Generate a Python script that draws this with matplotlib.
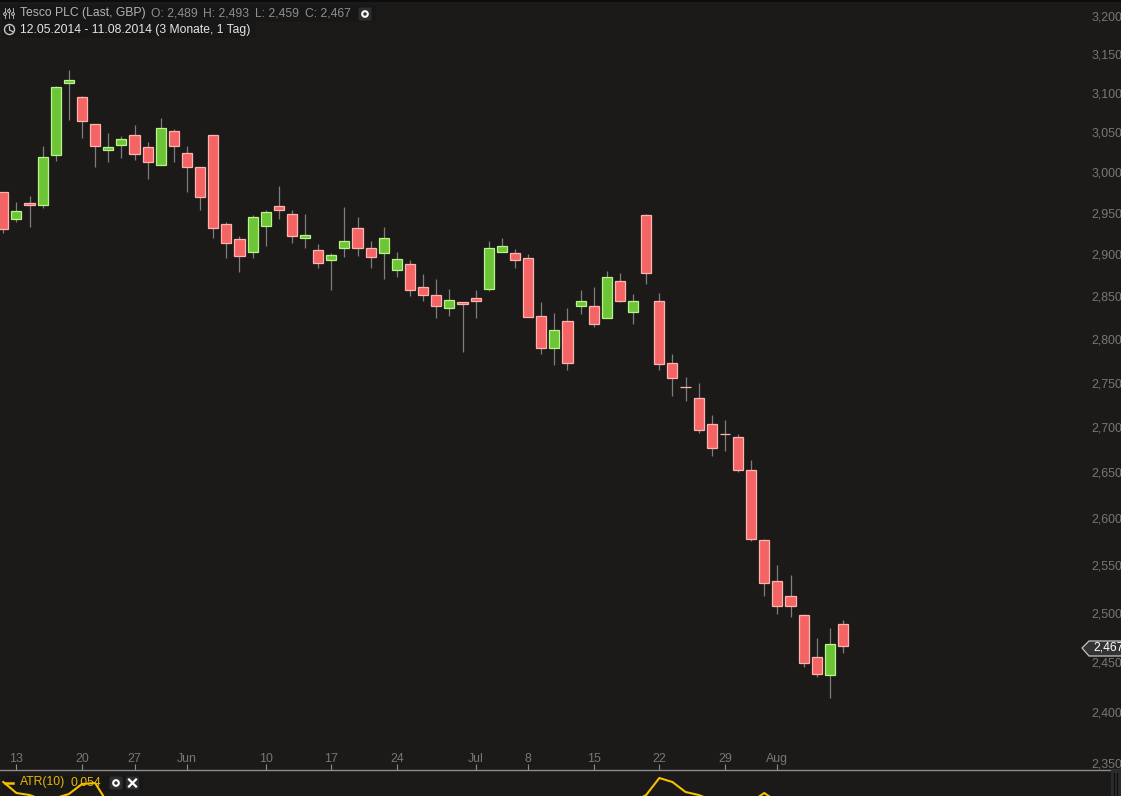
import matplotlib
matplotlib.use("Agg")
import matplotlib.pyplot as plt
from matplotlib.patches import Rectangle, Polygon, Circle, FancyBboxPatch

opens = [2975,2942,2962,2959,3021,3112,3094,3060,3027,3034,3047,3031,3009,3052,3024,3006,3047,2936,2918,2903,2934,2958,2948,2919,2905,2893,2908,2931,2908,2902,2881,2888,2861,2851,2836,2843,2848,2859,2903,2902,2895,2827,2790,2821,2838,2838,2824,2868,2832,2947,2844,2773,2745,2733,2703,2692,2689,2653,2577,2534,2518,2498,2455,2437,2489]
highs = [2976,2963,2970,3032,3109,3129,3096,3060,3049,3045,3059,3037,3068,3054,3032,3006,3047,2939,2922,2947,2953,2983,2954,2949,2912,2902,2957,2945,2916,2933,2903,2893,2876,2871,2859,2843,2857,2916,2920,2906,2900,2843,2830,2836,2857,2861,2880,2878,2853,2948,2854,2783,2757,2750,2713,2708,2692,2664,2578,2550,2540,2499,2475,2485,2493]
lows = [2926,2939,2933,2956,3014,3065,3043,3007,3012,3017,3015,2992,3009,3012,2976,2953,2920,2896,2879,2896,2910,2943,2913,2908,2884,2857,2897,2898,2884,2871,2873,2850,2845,2824,2827,2785,2824,2856,2903,2884,2826,2783,2770,2765,2829,2814,2824,2843,2818,2865,2765,2735,2729,2694,2668,2673,2650,2576,2518,2499,2496,2445,2435,2414,2459]
closes = [2930,2952,2960,3019,3107,3117,3064,3033,3031,3041,3022,3012,3055,3032,3006,2969,2932,2913,2898,2945,2951,2953,2922,2923,2889,2899,2916,2908,2897,2919,2894,2857,2852,2838,2846,2841,2845,2908,2910,2893,2826,2790,2810,2772,2845,2818,2873,2845,2845,2877,2771,2755,2745,2697,2677,2692,2653,2578,2532,2508,2508,2449,2438,2469,2467]
atr = [66,60.5,59.5,57,58,60,65,65.5,55,54,54,53,53,52,52,52,53,53,53,53,53,52,52,52,52,51,51,51,51,51,51,51,51,51,51,51,51,52,52,52,53,53,53,53,53,53,54,54,56,59.5,68,66,61,59.5,57,56,55,56,60.5,56,55,55,54.5,54.5,54]
atr_values = [v / 1000 for v in atr]

price_ticks = [3200,3150,3100,3050,3000,2950,2900,2850,2800,2750,2700,2650,2600,2550,2500,2450,2400,2350]
price_labels = ["3,200","3,150","3,100","3,050","3,000","2,950","2,900","2,850","2,800","2,750","2,700","2,650","2,600","2,550","2,500","2,450","2,400","2,350"]
date_ticks = [1,6,10,14,20,25,30,36,40,45,50,55,59]
date_labels = ["13","20","27","Jun","10","17","24","Jul","8","15","22","29","Aug"]

BG = "#1b1a19"
GRAY = "#777777"
W, H = 1121, 796
FONT = "Liberation Sans"
plt.rcParams["font.family"] = [FONT, "DejaVu Sans"]

fig = plt.figure(figsize=(W / 100, H / 100), dpi=100, facecolor=BG)
def pxr(x0, y0, x1, y1):
    return [x0 / W, 1 - y1 / H, (x1 - x0) / W, (y1 - y0) / H]

ax = fig.add_axes(pxr(0, 0, W, 770), facecolor=BG)
ax.set_zorder(0)
ax.set_yscale("log")
ax.set_xlim(-0.2515, 85.19)
ax.set_ylim(2343.3, 3221.2)
for s in ["top", "left", "right"]:
    ax.spines[s].set_visible(False)
ax.spines["bottom"].set_color("#8c8c8c")
ax.spines["bottom"].set_linewidth(1.0)

xs = list(range(len(opens)))
ax.vlines(xs, lows, highs, colors="#7d7d7d", linewidth=0.9, zorder=2)
for i in xs:
    up = closes[i] > opens[i]
    ax.bar(i, abs(closes[i] - opens[i]), bottom=min(opens[i], closes[i]), width=0.77,
           facecolor="#6ec437" if up else "#f56464",
           edgecolor="#b6f58a" if up else "#ffb3ad", linewidth=0.9, zorder=3)

ax.yaxis.tick_right()
ax.set_yticks(price_ticks)
ax.set_yticklabels(price_labels, fontsize=8.9, color=GRAY, ha="left")
ax.minorticks_off()
ax.tick_params(axis="y", which="both", length=0, pad=-21)
ax.set_xticks(date_ticks)
ax.set_xticklabels(date_labels, fontsize=8.9, color=GRAY)
ax.tick_params(axis="x", direction="in", length=4, width=0.8, color="#8c8c8c", pad=-12)

under = fig.add_axes([0, 0, 1, 1], facecolor="none")
under.set_zorder(1)
under.set_xlim(0, W); under.set_ylim(H, 0); under.axis("off")
under.add_patch(Rectangle((2, 776), 141, 15, color="#171717", lw=0))

ax2 = fig.add_axes(pxr(0, 770, W, H), facecolor="none")
ax2.set_zorder(2)
ax2.set_xlim(ax.get_xlim())
ax2.set_ylim(0.059, 0.072)
ax2.axis("off")
ax2.plot(xs, atr_values, color="#f5c000", linewidth=1.5, solid_joinstyle="round", zorder=2)

ov = fig.add_axes([0, 0, 1, 1], facecolor="none")
ov.set_zorder(3)
ov.set_xlim(0, W); ov.set_ylim(H, 0); ov.axis("off")

ov.add_patch(Rectangle((0, 0), W, 1.5, color="#0c0c0c", lw=0))
ov.add_patch(Rectangle((2, 5), 374, 17, color="#171717", lw=0))
ov.add_patch(Rectangle((2, 22), 254, 16, color="#171717", lw=0))
ov.add_patch(Rectangle((1111, 770), 10, 26, color="#2b2b2b", lw=0))
for x in (1114, 1117):
    ov.plot([x, x], [773, 796], color="#0d0d0d", lw=0.8)

# header icons
for x, y0 in ((5, 14), (9, 11), (13, 14)):
    ov.plot([x, x], [8, 18], color="#c8c8c8", lw=0.6)
    ov.add_patch(Circle((x, y0), 1.4, fc="#171717", ec="#c8c8c8", lw=0.7, zorder=3))
ov.add_patch(Circle((9.5, 29.5), 5, fc="none", ec="#c8c8c8", lw=1))
ov.plot([9.5, 9.5, 12.5], [26.5, 30, 31.5], color="#c8c8c8", lw=0.9)

def button(cx, cy):
    ov.add_patch(FancyBboxPatch((cx - 5, cy - 5), 10, 10, boxstyle="round,pad=1.5",
                                fc="#2e2e2e", ec="none", zorder=4))
button(365, 14)
ov.add_patch(Circle((365, 14), 2.8, fc="none", ec="white", lw=1.5, zorder=5))
button(116, 783)
ov.add_patch(Circle((116, 783), 2.8, fc="none", ec="white", lw=1.5, zorder=5))
button(132.5, 783)
ov.plot([129, 136], [779.5, 786.5], color="white", lw=1.6, zorder=5)
ov.plot([129, 136], [786.5, 779.5], color="white", lw=1.6, zorder=5)

tk = dict(fontsize=8.75, va="center", ha="left", family=FONT)
ov.text(20, 13, "Tesco PLC (Last, GBP)", color="#b4b4b4", **tk)
ov.text(151, 13, "O: 2,489", color="#8e8e8e", **tk)
ov.text(203, 13, "H: 2,493", color="#8e8e8e", **tk)
ov.text(255, 13, "L: 2,459", color="#8e8e8e", **tk)
ov.text(305, 13, "C: 2,467", color="#8e8e8e", **tk)
ov.text(20, 29.5, "12.05.2014 - 11.08.2014 (3 Monate, 1 Tag)", color="#e4e4e4", **tk)
ov.plot([5, 13], [783, 783], color="#f5c000", lw=1.8, zorder=3.5)
ov.text(20, 782.5, "ATR(10)", color="#e8b800", zorder=6, **tk)
ov.text(70.5, 782.5, "0,054", color="#e8b800", zorder=6, **tk)

# last-price tag
ov.add_patch(Polygon([(1082, 648), (1089, 641), (1122, 641), (1122, 656), (1089, 656)],
                     closed=True, fc="#333333", ec="#c4c4c4", lw=0.9, zorder=5))
ov.text(1093, 648, f"{closes[-1] // 1000},{closes[-1] % 1000}", color="white", zorder=6, **tk)

fig.savefig("out.png", dpi=100, facecolor=BG)
